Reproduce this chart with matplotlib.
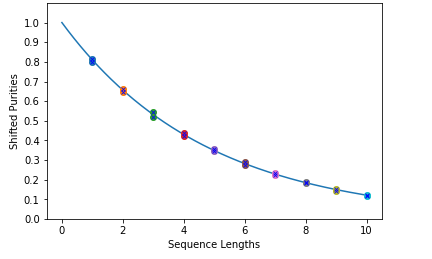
import matplotlib
matplotlib.use('Agg')
import matplotlib.pyplot as plt
import numpy as np

# sequence lengths and the shifted purities measured at each
lengths = [1, 2, 3, 4, 5, 6, 7, 8, 9, 10]
purities = [
    [0.800, 0.815],
    [0.645, 0.660],
    [0.520, 0.545],
    [0.425, 0.440],
    [0.345, 0.357],
    [0.275, 0.290],
    [0.224, 0.232],
    [0.182, 0.190],
    [0.145, 0.155],
    [0.118, 0.123],
]

# fitted decay: A * p**m
fit_A = 1.0
fit_p = 0.81

fig = plt.figure(figsize=(6, 3.6), dpi=72)
ax = fig.add_axes([0.108, 0.154, 0.776, 0.834])

for i, (m, vals) in enumerate(zip(lengths, purities)):
    ax.scatter([m] * len(vals), vals, color='C%d' % (i % 10), s=36, zorder=2)
    ax.plot([m] * len(vals), vals, 'bx', markersize=4, markeredgewidth=0.8, zorder=3)

xs = np.linspace(0, lengths[-1], 200)
ax.plot(xs, fit_A * fit_p ** xs, color='C0', zorder=1)

ax.set_yticks(np.arange(0, 1.05, 0.1))
ax.set_ylim(0, 1.1)
ax.set_xlim(-0.5, 10.5)
ax.set_xlabel('Sequence Lengths')
ax.set_ylabel('Shifted Purities')

plt.savefig('out.png', dpi=72)
